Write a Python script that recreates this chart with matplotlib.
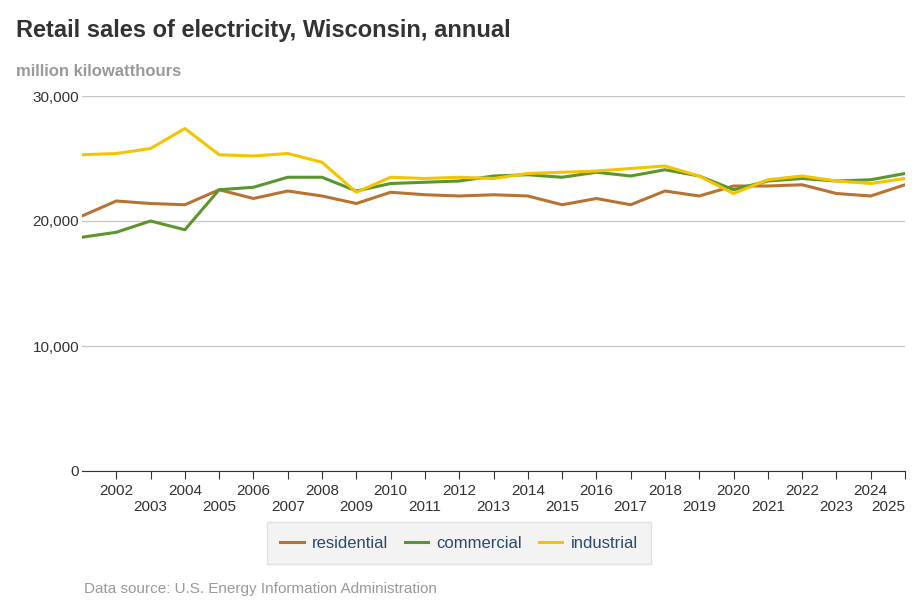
import matplotlib.pyplot as plt

years = list(range(2001, 2026))
residential = [20.4, 21.6, 21.4, 21.3, 22.5, 21.8, 22.4, 22.0, 21.4, 22.3, 22.1, 22.0, 22.1,
               22.0, 21.3, 21.8, 21.3, 22.4, 22.0, 22.8, 22.8, 22.9, 22.2, 22.0, 22.9]
commercial = [18.7, 19.1, 20.0, 19.3, 22.5, 22.7, 23.5, 23.5, 22.4, 23.0, 23.1, 23.2, 23.6,
              23.7, 23.5, 23.9, 23.6, 24.1, 23.6, 22.5, 23.2, 23.4, 23.2, 23.3, 23.8]
industrial = [25.3, 25.4, 25.8, 27.4, 25.3, 25.2, 25.4, 24.7, 22.3, 23.5, 23.4, 23.5, 23.4,
              23.8, 23.9, 24.0, 24.2, 24.4, 23.6, 22.2, 23.3, 23.6, 23.2, 23.0, 23.4]
y_ticks = [0, 10000, 20000, 30000]

plt.rcParams['font.family'] = ['Liberation Sans', 'DejaVu Sans']
fig = plt.figure(figsize=(9.2, 6.13), dpi=100)
ax = fig.add_axes([82 / 920, 1 - 471 / 613, 823 / 920, 375 / 613])

ax.plot(years, [v * 1000 for v in residential], color='#b87333', lw=2.2, label='residential')
ax.plot(years, [v * 1000 for v in commercial], color='#5a962e', lw=2.2, label='commercial')
ax.plot(years, [v * 1000 for v in industrial], color='#f5c400', lw=2.2, label='industrial')

ax.set_xlim(2001, 2025)
ax.set_ylim(0, 30000)
ax.set_yticks(y_ticks)
ax.set_yticklabels([f'{t:,}' for t in y_ticks], fontsize=11, color='#333333')
ax.grid(axis='y', color='#c8c8c8', lw=1)
ax.set_axisbelow(True)
for s in ['top', 'right', 'left']:
    ax.spines[s].set_visible(False)
ax.spines['bottom'].set_color('#333333')
ax.tick_params(axis='y', length=0, pad=2)
ax.set_xticks(years[1:])
ax.set_xticklabels([str(y) if y % 2 == 0 else '\n' + str(y) for y in years[1:]],
                   fontsize=11, color='#333333')
ax.get_xticklabels()[-1].set_ha('right')
ax.tick_params(axis='x', length=6, color='#333333')

fig.text(16 / 920, 1 - 30 / 613, 'Retail sales of electricity, Wisconsin, annual',
         fontsize=17, fontweight='bold', color='#333333', va='center')
fig.text(16 / 920, 1 - 71 / 613, 'million kilowatthours', fontsize=12, fontweight='bold',
         color='#999999', va='center')
fig.text(84 / 920, 1 - 589 / 613, 'Data source: U.S. Energy Information Administration',
         fontsize=11, color='#999999', va='center')

leg = fig.legend(loc='center', bbox_to_anchor=(459 / 920, 1 - 543 / 613), ncol=3,
                 frameon=True, fontsize=12, handlelength=1.4, columnspacing=1.0,
                 handletextpad=0.5, borderpad=0.5)
leg.get_frame().set_facecolor('#f0f0f0')
leg.get_frame().set_edgecolor('#dddddd')
leg.get_frame().set_boxstyle('square')
for t in leg.get_texts():
    t.set_color('#2b4a6b')

fig.savefig('out.png', dpi=100)
